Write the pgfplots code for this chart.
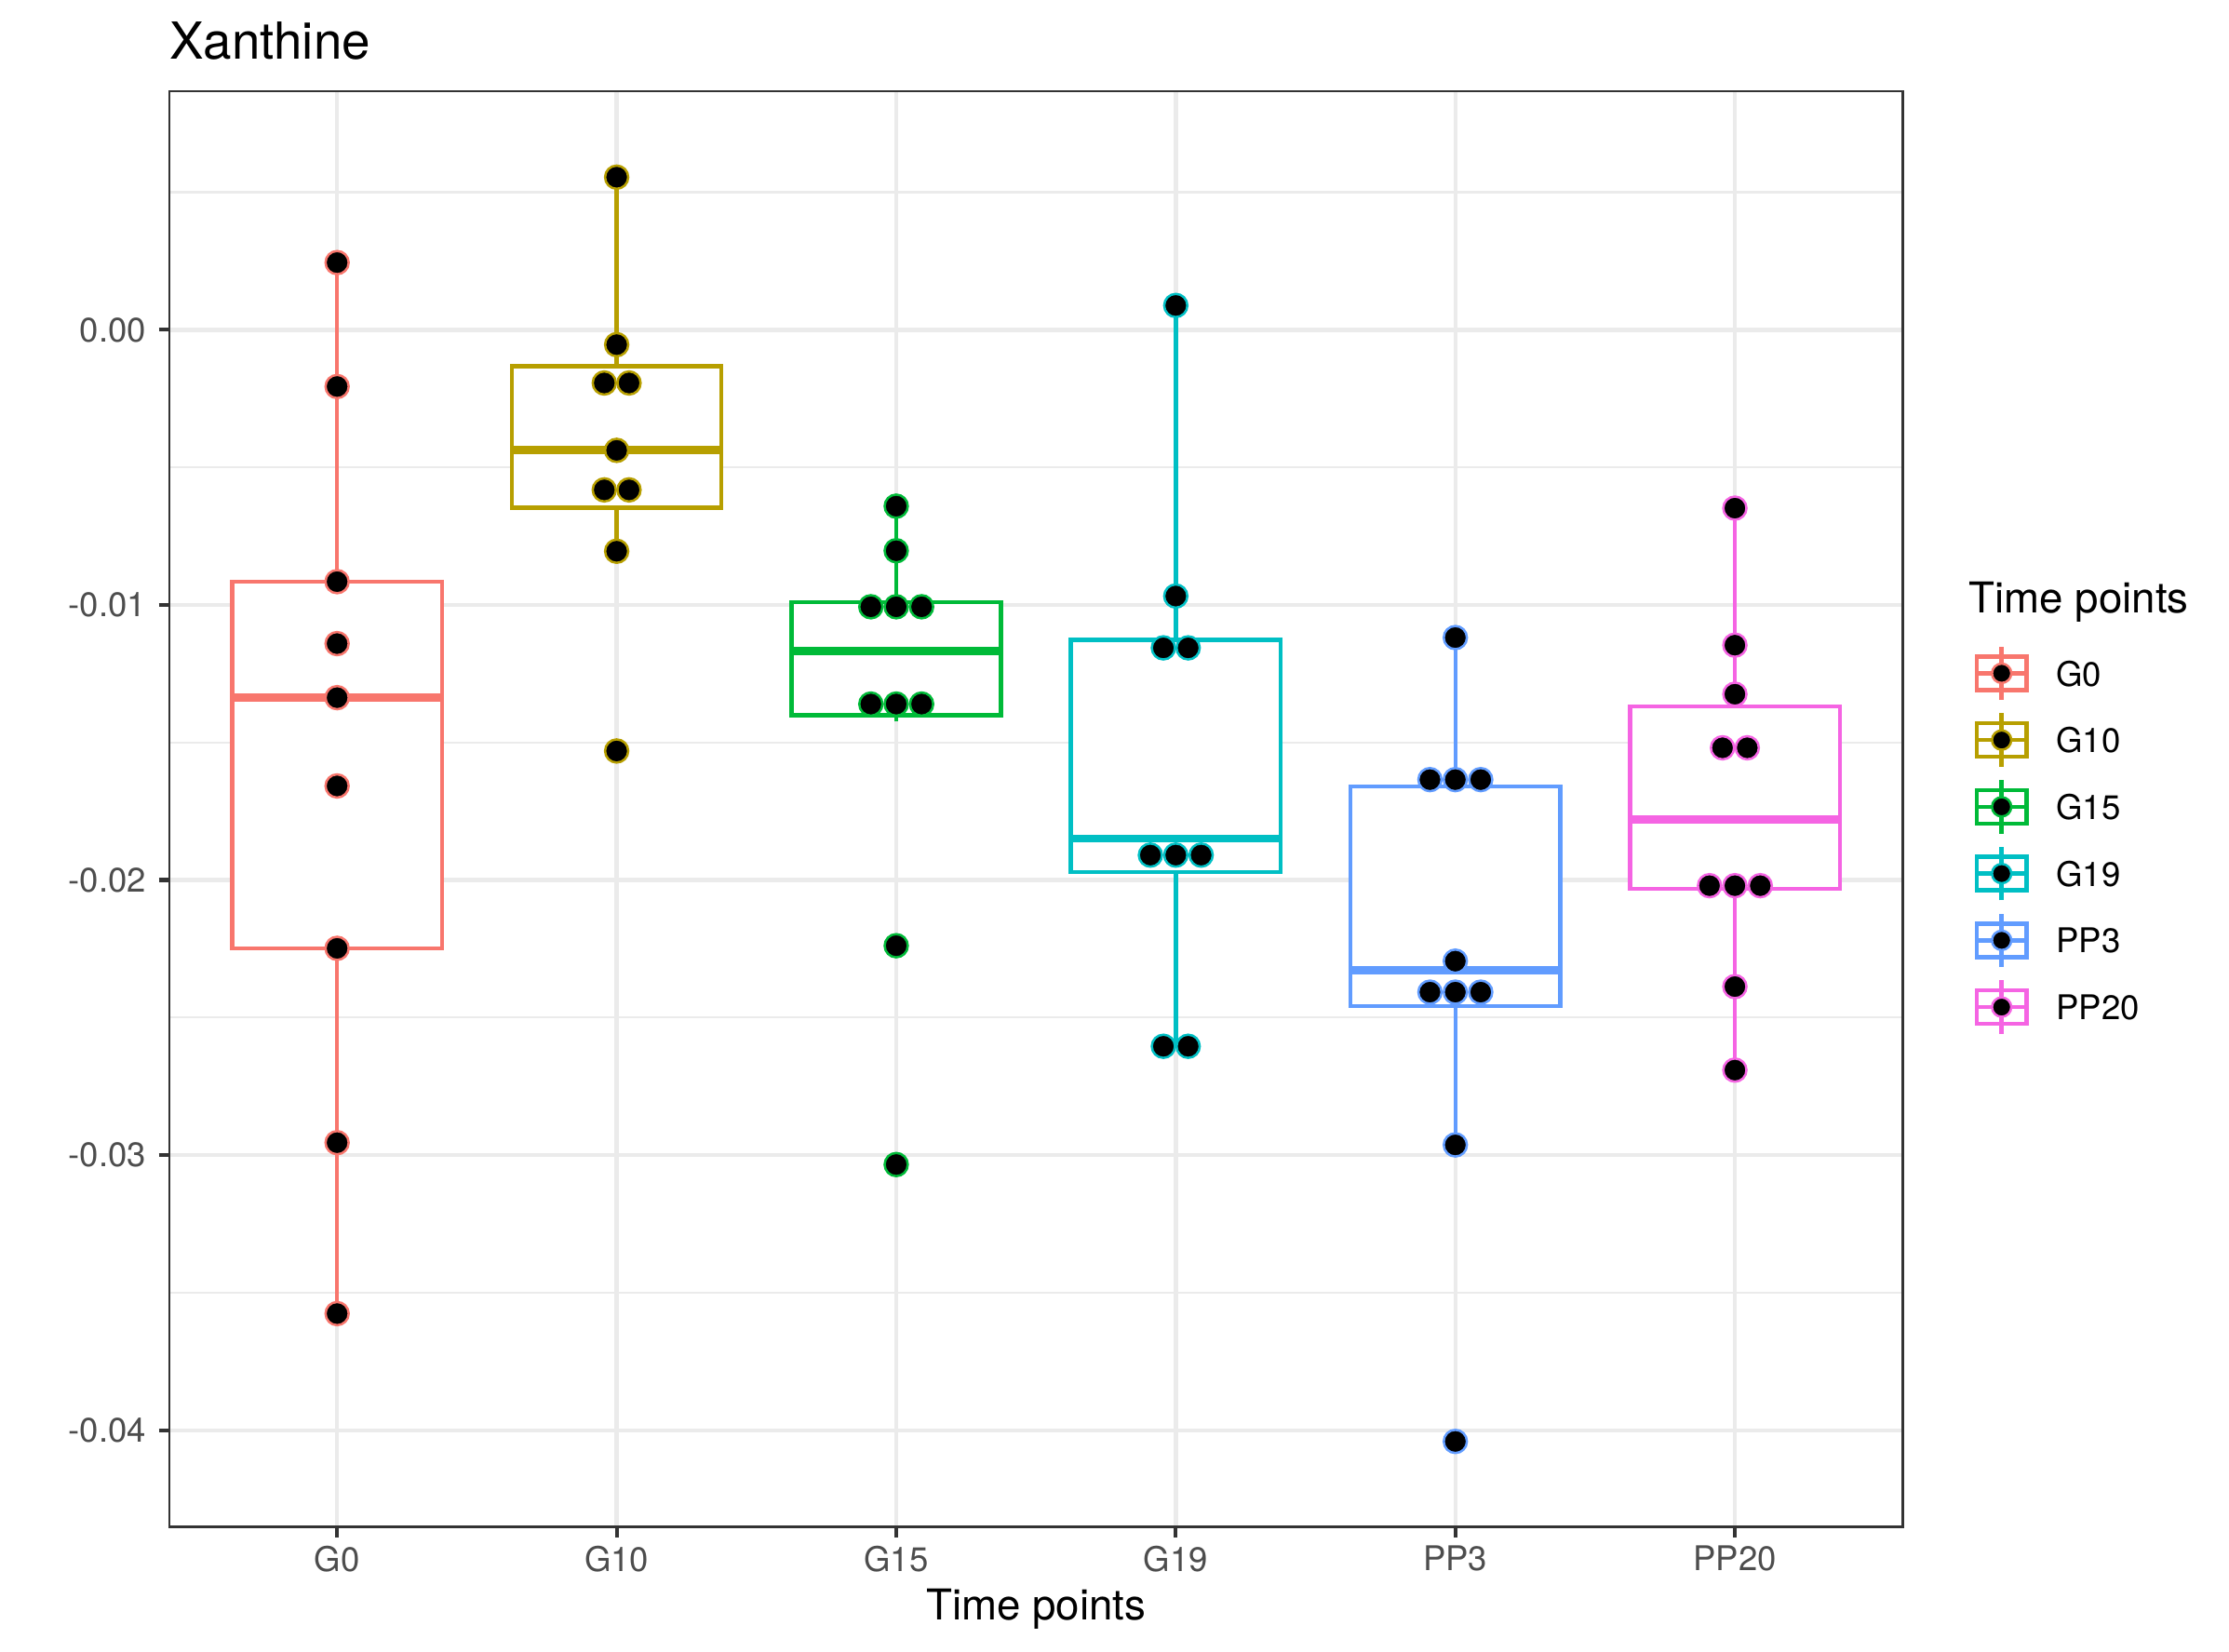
\documentclass[border=0pt]{standalone}
\usepackage{fontspec}
\setmainfont{TeX Gyre Heros}
\usepackage{pgfplots}
\pgfplotsset{compat=1.18}
\definecolor{c0}{HTML}{F8766D}
\definecolor{c1}{HTML}{B79F00}
\definecolor{c2}{HTML}{00BA38}
\definecolor{c3}{HTML}{00BFC4}
\definecolor{c4}{HTML}{619CFF}
\definecolor{c5}{HTML}{F564E3}
\definecolor{grey92}{HTML}{EBEBEB}
\definecolor{grey20}{HTML}{333333}
\definecolor{grey30}{HTML}{4D4D4D}
\pgfplotsset{
  legkey/.style={legend image code/.code={
    \path[draw=none] (-8.64pt,-8.64pt) rectangle (8.64pt,8.64pt);
    \draw[line width=1.07pt] (0,-6.91pt) -- (0,6.91pt);
    \draw[line width=1.07pt] (-6.48pt,-4.32pt) rectangle (6.48pt,4.32pt);
    \draw[line width=1.07pt] (-6.48pt,0) -- (6.48pt,0);
    \filldraw[fill=black, line width=0.6pt] (0,0) circle (2.5pt);
  }},
  ln/.style={#1, line width=1.07pt, forget plot},
  bx/.style={#1, fill=white, line width=1.07pt, forget plot},
  md/.style={#1, line width=2.13pt, forget plot},
  dots/.style={only marks, mark=*, mark size=3.0pt, forget plot,
    mark options={fill=black, draw=#1, line width=0.6pt}},
}
\begin{document}
\begin{tikzpicture}
\begin{axis}[
  scale only axis, width=448.63pt, height=371.54pt,
  xmin=-0.6, xmax=5.6, ymin=-0.043505, ymax=0.008671,
  xtick={0,1,2,3,4,5}, xticklabels={G0,G10,G15,G19,PP3,PP20},
  ytick={-0.04,-0.03,-0.02,-0.01,0}, yticklabels={-0.04,-0.03,-0.02,-0.01,0.00},
  scaled y ticks=false,
  minor ytick={-0.035,-0.025,-0.015,-0.005,0.005},
  xmajorgrids, ymajorgrids, yminorgrids,
  major grid style={color=grey92, line width=1.07pt},
  minor grid style={color=grey92, line width=0.53pt},
  axis line style={color=grey20, line width=0.6pt},
  tick align=outside, major tick length=2.75pt, minor tick length=0pt,
  tick style={color=grey20, line width=1.0pt},
  tick pos=left,
  /pgf/number format/assume math mode=true,
  ticklabel style={font=\fontsize{8.8}{10.56}\selectfont, text=grey30},
  yticklabel style={anchor=east, inner sep=0pt, xshift=-3.05pt},
  xticklabel style={anchor=north, inner sep=0pt, yshift=-2.1pt},
  xlabel={Time points},
  xlabel style={at={(axis description cs:0.5,0)}, anchor=base, yshift=-24.02pt, inner sep=0pt, font=\fontsize{11}{13.2}\selectfont},
  title={Xanthine},
  title style={at={(axis description cs:0,1)}, anchor=base west, yshift=2.43pt, inner sep=0pt, font=\fontsize{13.2}{15.84}\selectfont},
  legend cell align=left,
  legend style={at={(axis description cs:1,1)}, anchor=north west, xshift=16.79pt, yshift=-141.82pt,
    draw=none, fill=none, inner sep=0pt, row sep=0pt, column sep=5.5pt,
    nodes={inner sep=0pt, text depth=0pt}, font=\fontsize{8.8}{10.56}\selectfont},
]
% ---- G0
\addplot[ln=c0] coordinates {(0,-0.035759) (0,-0.022483)};
\addplot[ln=c0] coordinates {(0,-0.009155) (0,0.002442)};
\addplot[bx=c0] coordinates {(-0.375,-0.022483) (0.375,-0.022483) (0.375,-0.009155) (-0.375,-0.009155)} -- cycle;
\addplot[md=c0] coordinates {(-0.375,-0.013372) (0.375,-0.013372)};
% ---- G10
\addplot[ln=c1] coordinates {(1,-0.00805) (1,-0.00647)};
\addplot[ln=c1] coordinates {(1,-0.001332) (1,0.005546)};
\addplot[bx=c1] coordinates {(0.625,-0.00647) (1.375,-0.00647) (1.375,-0.001332) (0.625,-0.001332)} -- cycle;
\addplot[md=c1] coordinates {(0.625,-0.00438) (1.375,-0.00438)};
% ---- G15
\addplot[ln=c2] coordinates {(2,-0.01424) (2,-0.014004)};
\addplot[ln=c2] coordinates {(2,-0.009895) (2,-0.006412)};
\addplot[bx=c2] coordinates {(1.625,-0.014004) (2.375,-0.014004) (2.375,-0.009895) (1.625,-0.009895)} -- cycle;
\addplot[md=c2] coordinates {(1.625,-0.011691) (2.375,-0.011691)};
% ---- G19
\addplot[ln=c3] coordinates {(3,-0.026043) (3,-0.019716)};
\addplot[ln=c3] coordinates {(3,-0.011271) (3,0.000883)};
\addplot[bx=c3] coordinates {(2.625,-0.019716) (3.375,-0.019716) (3.375,-0.011271) (2.625,-0.011271)} -- cycle;
\addplot[md=c3] coordinates {(2.625,-0.018492) (3.375,-0.018492)};
% ---- PP3
\addplot[ln=c4] coordinates {(4,-0.029628) (4,-0.024589)};
\addplot[ln=c4] coordinates {(4,-0.016598) (4,-0.011188)};
\addplot[bx=c4] coordinates {(3.625,-0.024589) (4.375,-0.024589) (4.375,-0.016598) (3.625,-0.016598)} -- cycle;
\addplot[md=c4] coordinates {(3.625,-0.023277) (4.375,-0.023277)};
% ---- PP20
\addplot[ln=c5] coordinates {(5,-0.026909) (5,-0.020328)};
\addplot[ln=c5] coordinates {(5,-0.013683) (5,-0.006483)};
\addplot[bx=c5] coordinates {(4.625,-0.020328) (5.375,-0.020328) (5.375,-0.013683) (4.625,-0.013683)} -- cycle;
\addplot[md=c5] coordinates {(4.625,-0.017792) (5.375,-0.017792)};
% dots
\addplot[dots=c0] coordinates {(0,0.002442) (0,-0.002063) (0,-0.009155) (0,-0.011407) (0,-0.013372) (0,-0.016581) (0,-0.022483) (0,-0.029547) (0,-0.035759)};
\addplot[dots=c1] coordinates {(1,0.005546) (1,-0.000541) (0.9557,-0.001934) (1.0443,-0.001934) (1,-0.004383) (0.9557,-0.00582) (1.0443,-0.00582) (1,-0.00805) (1,-0.01531)};
\addplot[dots=c2] coordinates {(2,-0.006412) (2,-0.008032) (1.9092,-0.010068) (2,-0.010068) (2.0908,-0.010068) (1.9092,-0.013605) (2,-0.013605) (2.0908,-0.013605) (2,-0.022388) (2,-0.030342)};
\addplot[dots=c3] coordinates {(3,0.000883) (3,-0.009679) (2.9557,-0.011562) (3.0443,-0.011562) (2.9092,-0.019094) (3,-0.019094) (3.0908,-0.019094) (2.9557,-0.026043) (3.0443,-0.026043)};
\addplot[dots=c4] coordinates {(4,-0.011188) (3.9092,-0.016351) (4,-0.016351) (4.0908,-0.016351) (4,-0.022949) (3.9092,-0.024075) (4,-0.024075) (4.0908,-0.024075) (4,-0.029628) (4,-0.040406)};
\addplot[dots=c5] coordinates {(5,-0.006483) (5,-0.011464) (5,-0.013246) (4.9557,-0.015194) (5.0443,-0.015194) (4.9092,-0.020206) (5,-0.020206) (5.0908,-0.020206) (5,-0.023875) (5,-0.026909)};
% legend
\addlegendimage{c0, legkey}\addlegendentry{G0}
\addlegendimage{c1, legkey}\addlegendentry{G10}
\addlegendimage{c2, legkey}\addlegendentry{G15}
\addlegendimage{c3, legkey}\addlegendentry{G19}
\addlegendimage{c4, legkey}\addlegendentry{PP3}
\addlegendimage{c5, legkey}\addlegendentry{PP20}
\end{axis}
\node[anchor=base west, inner sep=0pt, font=\fontsize{11}{13.2}\selectfont] at ([xshift=17.0pt, yshift=-135.1pt]current axis.north east) {Time points};
\pgfresetboundingbox
\path[use as bounding box] ([shift={(-43.84pt,-32.21pt)}]current axis.south west) rectangle ([shift={(84.48pt,23.61pt)}]current axis.north east);
\end{tikzpicture}
\end{document}
